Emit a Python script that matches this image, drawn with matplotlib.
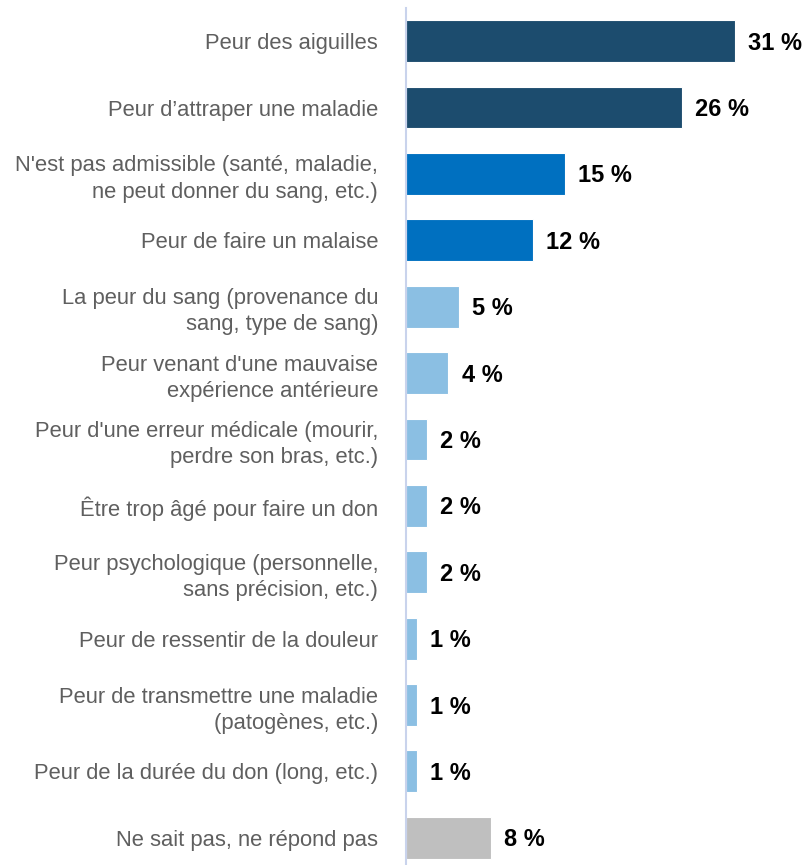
import matplotlib.pyplot as plt
import numpy as np

plt.rcParams['font.family'] = ['Liberation Sans', 'DejaVu Sans']

categories = [
    "Peur des aiguilles",
    "Peur d’attraper une maladie",
    "N'est pas admissible (santé, maladie,\nne peut donner du sang, etc.)",
    "Peur de faire un malaise",
    "La peur du sang (provenance du\nsang, type de sang)",
    "Peur venant d'une mauvaise\nexpérience antérieure",
    "Peur d'une erreur médicale (mourir,\nperdre son bras, etc.)",
    "Être trop âgé pour faire un don",
    "Peur psychologique (personnelle,\nsans précision, etc.)",
    "Peur de ressentir de la douleur",
    "Peur de transmettre une maladie\n(patogènes, etc.)",
    "Peur de la durée du don (long, etc.)",
    "Ne sait pas, ne répond pas",
]
values = [31, 26, 15, 12, 5, 4, 2, 2, 2, 1, 1, 1, 8]
colors = ['#1C4C6E', '#1C4C6E', '#0070C0', '#0070C0'] + ['#8BBFE3'] * 8 + ['#BFBFBF']

W, H = 808, 865
fig = plt.figure(figsize=(W / 100, H / 100), dpi=100)
ax = fig.add_axes([406 / W, 0, 1 - 406 / W, 857 / H])

y = np.arange(len(values))
ax.barh(y, values, height=0.63, color=colors, edgecolor='white', linewidth=0.8, zorder=2)

for yi, v in zip(y, values):
    ax.text(v + 1.25, yi + 0.03, f"{v} %", va='center', ha='left', fontsize=17,
            fontweight='bold', color='black')

ax.set_yticks(y)
ax.set_yticklabels(categories, fontsize=15.8, color='#5F5F5F', linespacing=1.32)
ax.tick_params(axis='y', length=0, pad=20)
ax.set_xticks([])
ax.set_xlim(0, 402 / 10.6)
ax.set_ylim(len(values) - 1 + 0.41, -0.5)

for s in ['top', 'right', 'bottom']:
    ax.spines[s].set_visible(False)
ax.spines['left'].set_color('#C9D3EC')
ax.spines['left'].set_linewidth(1.5)

fig.savefig('out.png', dpi=100)
